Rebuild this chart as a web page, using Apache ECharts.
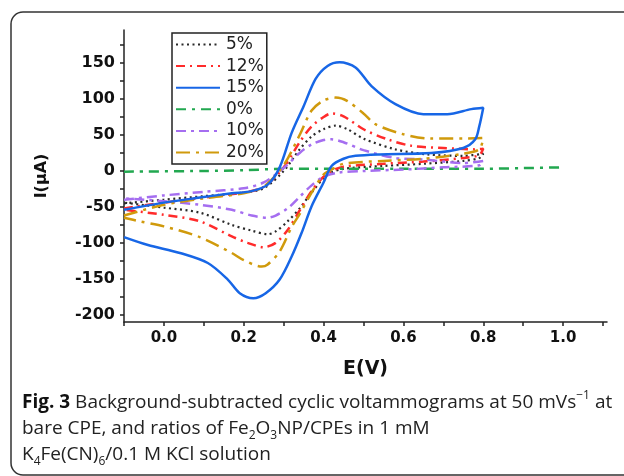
<!DOCTYPE html>
<html>
<head>
<meta charset="utf-8">
<script src="https://cdn.jsdelivr.net/npm/echarts@6/dist/echarts.min.js"></script>
<style>
  html, body { margin: 0; padding: 0; background: #fff; }
  #cvChart { width: 624px; height: 476px; }
</style>
</head>
<body>
<div id="cvChart"></div>
<script>
// legend / series names
let seriesNames = ['5%', '12%', '15%', '0%', '10%', '20%'];

// potential E (V) and current I (uA), forward sweep then reverse sweep
let e5  = [-0.1, 0, 0.1, 0.2, 0.25, 0.3, 0.34, 0.37, 0.4, 0.43, 0.46, 0.5, 0.58, 0.66, 0.75, 0.8,
           0.79, 0.75, 0.65, 0.55, 0.45, 0.42, 0.4, 0.37, 0.34, 0.31, 0.28, 0.26, 0.22, 0.17, 0.09, 0, -0.1];
let i5  = [-45, -40, -35, -30, -24, 0, 30, 48, 58, 63, 58, 45, 30, 23, 21, 24,
           18, 14, 10, 7, 3, -2, -10, -30, -52, -70, -84, -88, -83, -75, -58, -51, -44];

let e12 = [-0.1, 0, 0.1, 0.2, 0.25, 0.3, 0.34, 0.37, 0.4, 0.42, 0.45, 0.5, 0.56, 0.62, 0.7, 0.78, 0.8,
           0.79, 0.75, 0.65, 0.55, 0.45, 0.42, 0.4, 0.37, 0.34, 0.31, 0.28, 0.25, 0.21, 0.17, 0.09, 0, -0.1];
let i12 = [-52, -44, -37, -30, -22, 5, 40, 62, 75, 80, 76, 58, 44, 35, 32, 30, 31,
           22, 18, 13, 10, 6, 0, -8, -28, -55, -82, -100, -106, -100, -91, -70, -61, -54];

let e15 = [-0.1, 0, 0.09, 0.17, 0.22, 0.26, 0.29, 0.32, 0.35, 0.38, 0.41, 0.44, 0.48, 0.52, 0.58, 0.65, 0.71, 0.77, 0.8,
           0.79, 0.78, 0.75, 0.67, 0.54, 0.48, 0.45, 0.42, 0.4, 0.37, 0.345, 0.32, 0.29, 0.255, 0.224, 0.19, 0.16, 0.11, 0.04, -0.04, -0.1];
let i15 = [-54, -44, -37, -31, -28, -19, 5, 53, 90, 128, 146, 151, 144, 118, 93, 79, 79, 86, 88,
           62, 44, 32, 25, 23, 21, 17, 7, -16, -49, -86, -119, -151, -170, -177, -170, -151, -128, -114, -103, -92];

let e0  = [-0.1, 0.1, 0.2, 0.3, 0.4, 0.6, 0.8, 0.9, 1.0];
let i0  = [-1, 0, 1, 3, 3, 3, 3, 4, 5];

let e10 = [-0.1, 0, 0.1, 0.2, 0.25, 0.3, 0.34, 0.37, 0.4, 0.42, 0.45, 0.5, 0.58, 0.65, 0.75, 0.8,
           0.79, 0.7, 0.6, 0.5, 0.44, 0.4, 0.37, 0.34, 0.31, 0.28, 0.26, 0.22, 0.17, 0.09, 0, -0.1];
let i10 = [-40, -34, -29, -24, -16, 4, 25, 37, 43, 44, 40, 29, 18, 16, 11, 14,
           8, 5, 2, 0, -2, -8, -20, -36, -52, -62, -65, -62, -54, -47, -42, -38];

let e20 = [-0.1, 0, 0.1, 0.2, 0.25, 0.3, 0.34, 0.37, 0.4, 0.43, 0.46, 0.5, 0.53, 0.6, 0.67, 0.75, 0.8,
           0.79, 0.75, 0.65, 0.55, 0.45, 0.42, 0.4, 0.37, 0.34, 0.32, 0.29, 0.26, 0.245, 0.2, 0.17, 0.09, 0, -0.06, -0.1];
let i20 = [-62, -47, -38, -31, -22, 8, 50, 84, 98, 102, 97, 80, 65, 51, 45, 45, 46,
           30, 24, 17, 14, 10, 2, -5, -30, -60, -78, -112, -130, -133, -124, -114, -92, -77, -70, -65];

// axis ticks
let xTicks = [-0.1, 0, 0.1, 0.2, 0.3, 0.4, 0.5, 0.6, 0.7, 0.8, 0.9, 1.0, 1.1];
let xLabels = [0, 0.2, 0.4, 0.6, 0.8, 1.0];
let yTicks = [-200, -175, -150, -125, -100, -75, -50, -25, 0, 25, 50, 75, 100, 125, 150, 175];
let yLabels = [-200, -150, -100, -50, 0, 50, 100, 150];

let colorList = ['#2a2a2a', '#ff2b2b', '#1766e6', '#22a850', '#a56ef0', '#d09a0c'];
let dashList = [[2, 3.5], [9, 5, 2, 5], null, [10, 6, 3, 6], [10, 5, 3, 5], [14, 6, 3, 6]];
let widthList = [2.2, 2.5, 2.5, 2.5, 2.5, 2.5];

function zip(es, is) {
  return es.map(function (e, k) { return [e, is[k]]; });
}
let seriesData = [zip(e5, i5), zip(e12, i12), zip(e15, i15), zip(e0, i0), zip(e10, i10), zip(e20, i20)];

let labelFont = 'DejaVu Sans, Verdana, sans-serif';
let capFont = 'Open Sans, sans-serif';

let cvOption = {
  animation: false,
  color: colorList,
  grid: { left: 124, right: 17, top: 30, bottom: 154 },
  legend: {
    orient: 'vertical',
    left: 172,
    top: 33,
    data: seriesNames,
    itemWidth: 44,
    itemHeight: 14,
    itemGap: 4.6,
    padding: [3, 3, 3, 3],
    borderColor: '#222',
    borderWidth: 1.5,
    itemStyle: { opacity: 0 },
    textStyle: { fontFamily: labelFont, fontSize: 17, color: '#222', padding: [0, 0, 0, 1] }
  },
  xAxis: {
    type: 'value',
    min: -0.1,
    max: 1.11,
    name: 'E(V)',
    nameLocation: 'middle',
    nameGap: 38,
    nameTextStyle: { fontFamily: labelFont, fontSize: 19, fontWeight: 'bold', color: '#111' },
    splitLine: { show: false },
    axisLine: { onZero: false, lineStyle: { color: '#222', width: 1.5 } },
    axisTick: { length: 4, customValues: xTicks, lineStyle: { color: '#222', width: 1.5 } },
    axisLabel: {
      customValues: xLabels,
      margin: 9,
      fontFamily: labelFont, fontSize: 15, fontWeight: 'bold', color: '#111',
      formatter: function (v) { return v.toFixed(1); }
    }
  },
  yAxis: {
    type: 'value',
    min: -210,
    max: 196,
    name: 'I(\u03bcA)',
    nameLocation: 'middle',
    nameGap: 74,
    nameTextStyle: { fontFamily: labelFont, fontSize: 16, fontWeight: 'bold', color: '#111' },
    splitLine: { show: false },
    axisLine: { onZero: false, lineStyle: { color: '#222', width: 1.5 } },
    axisTick: { length: 4, customValues: yTicks, lineStyle: { color: '#222', width: 1.5 } },
    axisLabel: {
      customValues: yLabels,
      margin: 9,
      fontFamily: labelFont, fontSize: 16, fontWeight: 'bold', color: '#111'
    }
  },
  series: seriesNames.map(function (name, k) {
    return {
      name: name,
      type: 'line',
      data: seriesData[k],
      showSymbol: false,
      symbol: 'none',
      smooth: 0.3,
      z: k === 2 ? 3 : 2,
      lineStyle: { color: colorList[k], width: widthList[k], type: dashList[k] || 'solid' }
    };
  }),
  graphic: [
    {
      type: 'rect',
      silent: true,
      shape: { x: 11, y: 12, width: 700, height: 463, r: 12 },
      style: { fill: 'none', stroke: '#333', lineWidth: 1.5 }
    },
    {
      type: 'text',
      left: 22,
      top: 390,
      silent: true,
      style: {
        text: '{b|Fig. 3} Background-subtracted cyclic voltammograms at 50 mVs{sup|\u22121} at\n' +
              'bare CPE, and ratios of Fe{sub|2}O{sub|3}NP/CPEs in 1 mM\n' +
              'K{sub|4}Fe(CN){sub|6}/0.1 M KCl solution',
        fontFamily: capFont,
        fontSize: 19,
        lineHeight: 26,
        fill: '#222',
        rich: {
          b: { fontFamily: capFont, fontSize: 19, fontWeight: 'bold', lineHeight: 26, fill: '#111' },
          sub: { fontFamily: capFont, fontSize: 12, lineHeight: 14, verticalAlign: 'bottom', fill: '#222' },
          sup: { fontFamily: capFont, fontSize: 12, lineHeight: 14, verticalAlign: 'top', fill: '#222' }
        }
      }
    }
  ]
};

let cv = document.getElementById('cvChart');
var cvChart = echarts.init(cv);
cvChart.setOption(cvOption);
</script>
</body>
</html>
